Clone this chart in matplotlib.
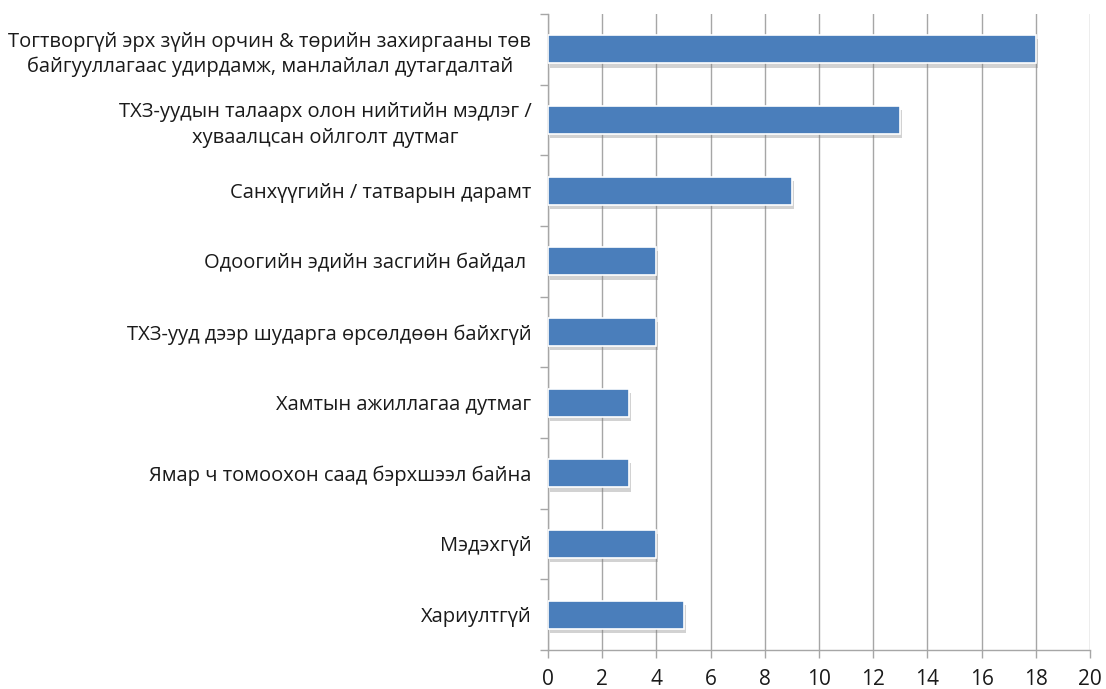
import matplotlib
matplotlib.use('Agg')
import matplotlib.pyplot as plt
import matplotlib.patheffects as pe
import numpy as np

plt.rcParams['font.family'] = ['Open Sans', 'DejaVu Sans']

# Categories, top to bottom
categories = [
    'Тогтворгүй эрх зүйн орчин & төрийн захиргааны төв\nбайгууллагаас удирдамж, манлайлал дутагдалтай',
    'ТХЗ-уудын талаарх олон нийтийн мэдлэг /\nхуваалцсан ойлголт дутмаг',
    'Санхүүгийн / татварын дарамт',
    'Одоогийн эдийн засгийн байдал ',
    'ТХЗ-ууд дээр шударга өрсөлдөөн байхгүй',
    'Хамтын ажиллагаа дутмаг',
    'Ямар ч томоохон саад бэрхшээл байна',
    'Мэдэхгүй',
    'Хариултгүй',
]
values = [18, 13, 9, 4, 4, 3, 3, 4, 5]
x_ticks = list(range(0, 21, 2))

fig = plt.figure(figsize=(11.06, 6.89), dpi=100)
ax = fig.add_axes([0.4955, 0.0566, 0.49, 0.9231])

y = np.arange(len(categories))
bars = ax.barh(y, values, height=0.4, color='#4a7ebb', edgecolor='white',
               linewidth=1.2, zorder=3)
for b in bars:
    b.set_path_effects([pe.SimplePatchShadow(offset=(1.5, -3), shadow_rgbFace='#808080', alpha=0.35),
                        pe.Normal()])

ax.set_xlim(0, 20)
ax.set_ylim(len(categories) - 0.5, -0.5)
ax.set_xticks(x_ticks)
ax.set_xticklabels([str(t) for t in x_ticks], fontsize=15, color='#1a1a1a')
ax.xaxis.grid(True, color='#a6a6a6', linewidth=1.0, zorder=0)
ax.set_axisbelow(True)

ax.set_yticks(y)
ax.set_yticklabels(categories, fontsize=14.5, color='#1a1a1a', ha='right',
                   multialignment='center', linespacing=1.35)
ax.set_yticks(np.arange(-0.5, len(categories), 1), minor=True)
ax.tick_params(axis='y', which='major', length=0, pad=12)
ax.tick_params(axis='y', which='minor', length=6, color='#a6a6a6', width=1)
ax.tick_params(axis='x', which='major', length=6, color='#a6a6a6', width=1, pad=8)

for s in ['top', 'right']:
    ax.spines[s].set_visible(False)
for s in ['left', 'bottom']:
    ax.spines[s].set_color('#a6a6a6')
    ax.spines[s].set_linewidth(1)

fig.savefig('out.png', dpi=100)
